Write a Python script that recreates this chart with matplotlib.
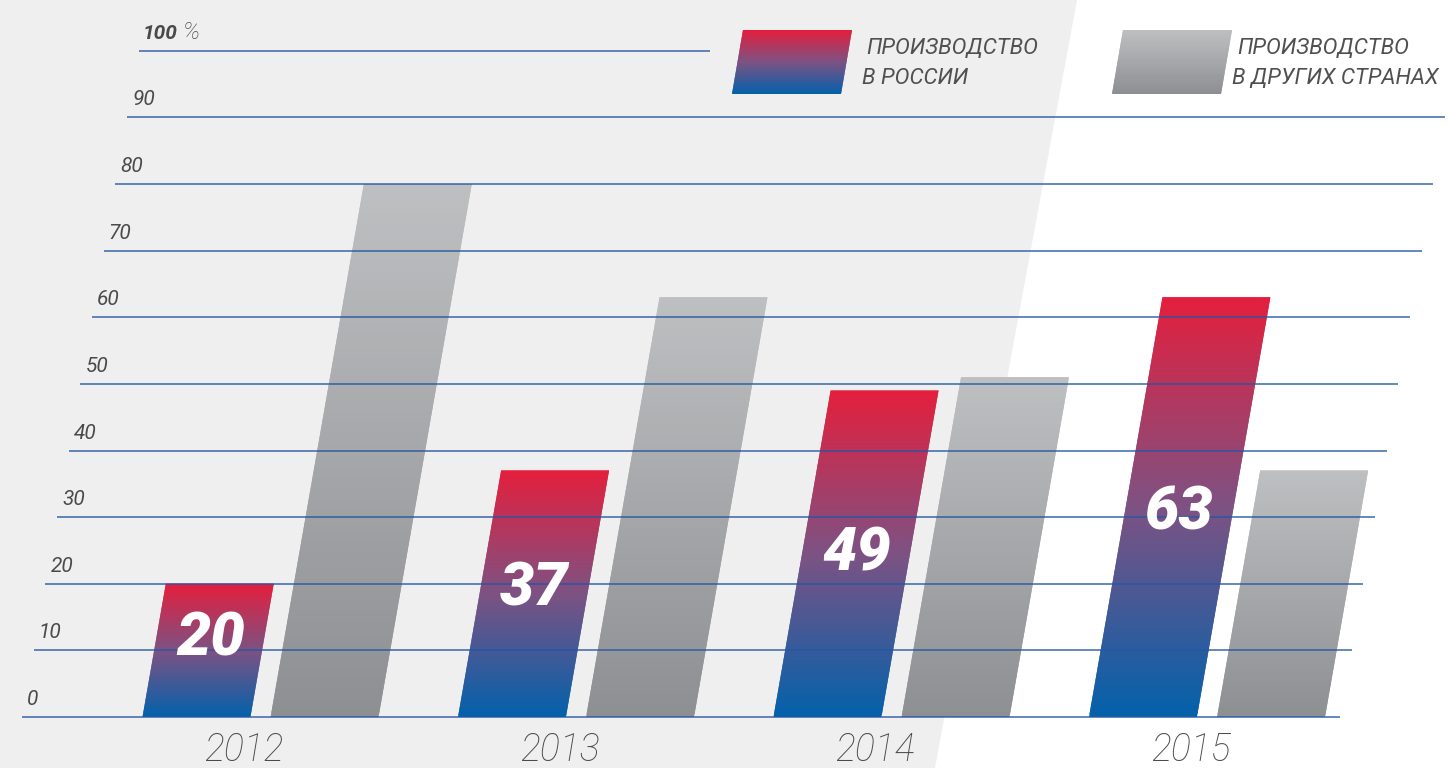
import numpy as np
import matplotlib
matplotlib.use("Agg")
import matplotlib.pyplot as plt
from matplotlib.transforms import Affine2D
from matplotlib.patches import Polygon
from matplotlib.colors import LinearSegmentedColormap

# ---- data ----
years = ["2012", "2013", "2014", "2015"]
russia = [20, 37, 49, 63]
other = [80, 63, 51, 37]
ticks = [0, 10, 20, 30, 40, 50, 60, 70, 80, 90, 100]
legend_labels = ["ПРОИЗВОДСТВО\nВ РОССИИ", "ПРОИЗВОДСТВО\nВ ДРУГИХ СТРАНАХ"]

FONT = ["Roboto", "DejaVu Sans"]
plt.rcParams["font.family"] = FONT

W, H = 1450, 768
fig = plt.figure(figsize=(W / 100, H / 100), dpi=100)
fig.patch.set_facecolor("white")

red_cmap = LinearSegmentedColormap.from_list("rb", ["#0361ab", "#7d5283", "#e41f3d"])
gray_cmap = LinearSegmentedColormap.from_list("gr", ["#8e8f92", "#bebfc1"])
NSTRIP = 150

# ---- background / legend layer (pixel coordinates) ----
bg = fig.add_axes([0, 0, 1, 1], zorder=0)
bg.set_xlim(0, W)
bg.set_ylim(H, 0)
bg.axis("off")
bg.add_patch(Polygon([(0, 0), (1077, 0), (935, H), (0, H)], closed=True,
                     facecolor="#efefef", edgecolor="none"))


def swatch(tl_x, top, bot, width, slant_px, cmap, n=60):
    # gradient parallelogram built from overlapping horizontal slices (bottom -> top)
    hh = (bot - top) / n
    for k in range(n):
        y_lo = bot - k * hh
        y_hi = max(bot - (k + 2) * hh, top)
        c = cmap((k + 0.5) / n)
        xl = tl_x - slant_px * (y_lo - top) / (bot - top)
        xh = tl_x - slant_px * (y_hi - top) / (bot - top)
        bg.add_patch(Polygon([(xl, y_lo), (xl + width, y_lo), (xh + width, y_hi), (xh, y_hi)],
                             closed=True, facecolor=c, edgecolor="none", lw=0))


sw_specs = [
    (743, red_cmap, (866, 54), (862, 84)),
    (1123, gray_cmap, (1237, 54), (1232, 84)),
]
for (tlx, cmap, p1, p2), lab in zip(sw_specs, legend_labels):
    swatch(tlx, 30, 94, 109, 11, cmap)
    l1, l2 = lab.split("\n")
    bg.text(p1[0], p1[1], l1, fontsize=16, style="italic", fontweight="normal",
            color="#505050", ha="left", va="baseline")
    bg.text(p2[0], p2[1], l2, fontsize=16, style="italic", fontweight="normal",
            color="#505050", ha="left", va="baseline")

# ---- main chart ----
ax = fig.add_axes([0, 0, 1, 1], zorder=1)
ax.patch.set_alpha(0)
ax.axis("off")
px_per_x = 315.5
px_per_y = 6.6625
x0_px, y0_px = 260.5, H - 717
xlim = (-x0_px / px_per_x, (W - x0_px) / px_per_x)
ylim = (-y0_px / px_per_y, (H - y0_px) / px_per_y)

slant = 0.175
s = slant * px_per_y / px_per_x
skew = Affine2D.from_values(1, 0, s, 1, 0, 0) + ax.transData

idx = np.arange(len(years))
w = 0.342
gap = 0.032


def gradient_bars(lefts, vals, cmap):
    for left, v in zip(lefts, vals):
        h = v / NSTRIP
        k = np.arange(NSTRIP)
        bottoms = k * h
        heights = np.minimum(2 * h, v - bottoms)
        cols = cmap((k + 0.5) / NSTRIP)
        bars = ax.bar(np.full(NSTRIP, left), heights, bottom=bottoms, width=w,
                      align="edge", color=cols, edgecolor="none", lw=0,
                      zorder=2)
        for r in bars:
            r.set_transform(skew)


gradient_bars(idx - gap - w, russia, red_cmap)
gradient_bars(idx + gap, other, gray_cmap)

# gridlines (on top of bars)
g_left = (22 - x0_px) / px_per_x
g_right = (1340 - x0_px) / px_per_x
g_right_top = 1.055
for t in ticks:
    r = g_right if t < 100 else g_right_top
    ax.plot([g_left, r], [t, t], color="#2456a4", lw=1.1, alpha=0.9,
            transform=skew, zorder=5, solid_capstyle="butt")
    if t < 100:
        ax.text(g_left + 0.010, t + 1.8, str(t), transform=skew, fontsize=15,
                style="italic", color="#4a4a4a", ha="left", va="baseline")
    else:
        ax.text(g_left + 0.006, t + 1.8, str(t), transform=skew, fontsize=15,
                style="italic", fontweight="bold", color="#4a4a4a",
                ha="left", va="baseline")
        ax.text(g_left + 0.135, t + 1.8, "%", transform=skew, fontsize=17,
                style="italic", fontweight="light", color="#4a4a4a",
                ha="left", va="baseline")

# value labels
for i, v in enumerate(russia):
    cx = i - gap - w / 2
    ax.text(cx, 0.44 * v + 3.0, str(v), transform=skew, fontsize=44,
            style="italic", fontweight="heavy", color="white",
            ha="center", va="center", zorder=6)

# year labels
for i, y in enumerate(years):
    ax.text(i - 0.03, -5.0, y, transform=skew, fontsize=27, style="italic",
            fontweight="light", color="#4a4a4a", ha="center", va="center")

ax.set_xlim(*xlim)
ax.set_ylim(*ylim)

fig.savefig("out.png", dpi=100, facecolor=fig.get_facecolor())
